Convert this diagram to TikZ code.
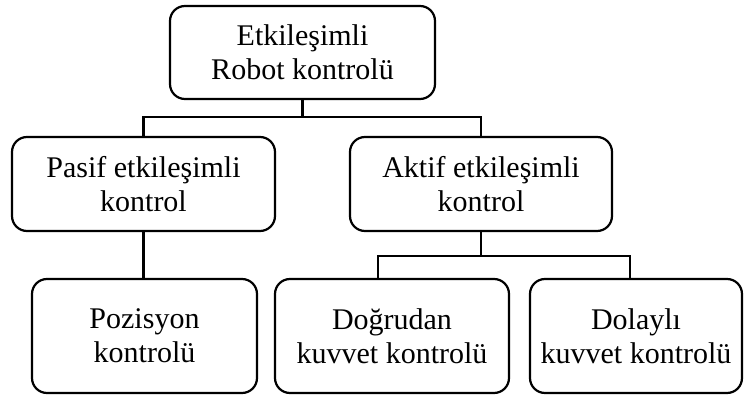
\documentclass[tikz,border=0pt]{standalone}
\usepackage{fontspec}
\setmainfont{Liberation Serif}
\begin{document}
\begin{tikzpicture}[x=1pt,y=-1pt,
  box/.style={draw=black, line width=2.2pt, rounded corners=15pt, inner sep=0pt,
    align=center, font=\fontsize{30}{34}\selectfont},
  link/.style={draw=black, line width=2.6pt}]
\useasboundingbox (0,0) rectangle (745,396);
\node[box, minimum width=265pt, minimum height=93pt] (top) at (302.5,52.5) {Etkileşimli\\Robot kontrolü};
\node[box, minimum width=263pt, minimum height=94pt] (pasif) at (143.5,184) {Pasif etkileşimli\\kontrol};
\node[box, minimum width=262pt, minimum height=94pt] (aktif) at (481,184) {Aktif etkileşimli\\kontrol};
\node[box, minimum width=225pt, minimum height=114pt] (poz) at (144.5,336) {Pozisyon\\kontrolü};
\node[box, minimum width=234pt, minimum height=114pt] (dog) at (392,336) {Doğrudan\\kuvvet kontrolü};
\node[box, minimum width=212pt, minimum height=114pt] (dol) at (636,336) {Dolaylı\\kuvvet kontrolü};
\coordinate (j1) at (302.5,117);
\coordinate (j2) at (481,256);
\draw[link] (top.south) -- (j1);
\draw[link] (j1) -| (pasif.north);
\draw[link] (j1) -| (aktif.north);
\draw[link] (pasif.south) -- (pasif.south |- poz.north);
\draw[link] (aktif.south) -- (j2);
\draw[link] (j2) -| ([xshift=-14pt]dog.north);
\draw[link] (j2) -| ([xshift=-6pt]dol.north);
\end{tikzpicture}
\end{document}
